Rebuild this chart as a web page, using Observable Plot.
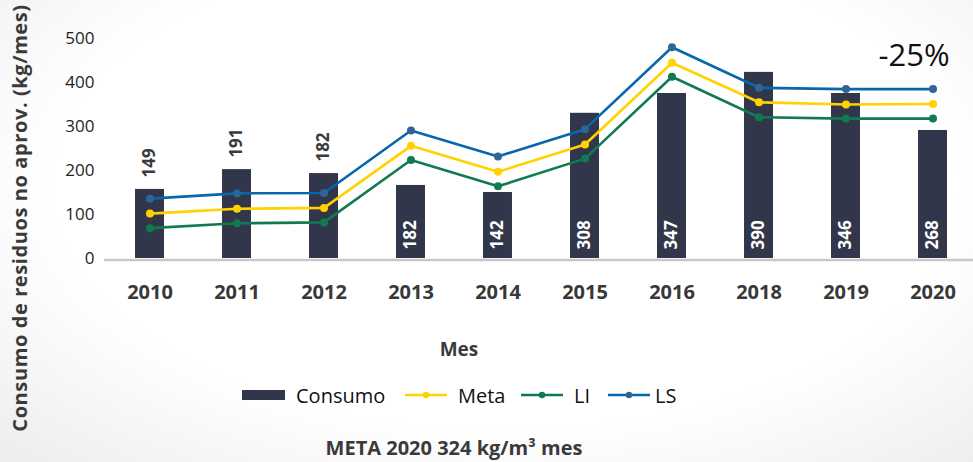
<!DOCTYPE html>
<html>
<head>
<meta charset="utf-8">
<script src="https://cdn.jsdelivr.net/npm/d3@7"></script>
<script src="https://cdn.jsdelivr.net/npm/@observablehq/plot@0.6"></script>
<style>
  html, body { margin: 0; padding: 0; }
  body { width: 973px; height: 462px; overflow: hidden;
    background: radial-gradient(ellipse 75% 85% at 52% 40%, #ffffff 62%, #ececec 100%);
    font-family: "Open Sans", sans-serif; }
  #wrap { position: relative; width: 973px; height: 462px; }
  #chart { position: absolute; left: 0; top: 0; }
  #ytitle { position: absolute; left: 19px; top: 218px; transform: translate(-50%, -50%) rotate(-90deg);
    white-space: nowrap; font-weight: 700; font-size: 20px; letter-spacing: 0.6px; color: #3a3a3a; }
  #xtitle { position: absolute; left: 459px; top: 336px; transform: translateX(-50%);
    font-weight: 700; font-size: 19px; color: #3a3a3a; }
  #legend { position: absolute; left: 0; top: 380px; width: 973px; height: 30px; font-size: 20px; color: #111; }
  #legend .item { position: absolute; top: 0; display: flex; align-items: center; height: 30px; }
  #legend svg { display: block; }
  #caption { position: absolute; left: 454px; top: 434px; transform: translateX(-50%);
    white-space: nowrap; font-weight: 700; font-size: 20px; color: #3a3a3a; }
</style>
</head>
<body>
<div id="wrap">
  <div id="chart"></div>
  <div id="ytitle"></div>
  <div id="xtitle"></div>
  <div id="legend"></div>
  <div id="caption"></div>
</div>
<script>
// ---- data ----
const years = ["2010", "2011", "2012", "2013", "2014", "2015", "2016", "2018", "2019", "2020"];
const consumo = [157, 202, 193, 166, 150, 330, 375, 423, 375, 291];      // bar heights as drawn
const consumoLabels = [149, 191, 182, 182, 142, 308, 347, 390, 346, 268]; // printed data labels
const meta = [102, 113, 115, 256, 197, 259, 445, 355, 350, 351];
const li = [69, 80, 82, 224, 164, 227, 413, 321, 318, 318];
const ls = [136, 148, 149, 291, 232, 294, 480, 388, 385, 385];
const yTicks = [0, 100, 200, 300, 400, 500];
const seriesNames = ["Consumo", "Meta", "LI", "LS"];
const yTitle = "Consumo de residuos no aprov. (kg/mes)";
const xTitle = "Mes";
const caption = "META 2020 324 kg/m³ mes";
const annotation = "-25%";

// ---- styles ----
const colors = { Consumo: "#32364a", Meta: "#ffd200", LI: "#127a4f", LS: "#0767ad" };
const dotColors = { Meta: "#ffd200", LI: "#127a4f", LS: "#2f6496" };

const bars = years.map((year, i) => ({ year, value: consumo[i], label: consumoLabels[i], i }));
const lineRows = [];
[["Meta", meta], ["LI", li], ["LS", ls]].forEach(([name, arr]) =>
  years.forEach((year, i) => lineRows.push({ series: name, year, value: arr[i] })));

const lineMarks = [];
for (const name of ["LI", "Meta", "LS"]) {
  const rows = lineRows.filter(d => d.series === name);
  lineMarks.push(Plot.lineY(rows, { x: "year", y: "value", stroke: colors[name], strokeWidth: 2.6, curve: "linear" }));
  lineMarks.push(Plot.dot(rows, { x: "year", y: "value", fill: dotColors[name], r: 4, stroke: "none" }));
}

const chart = Plot.plot({
  width: 973,
  height: 310,
  marginTop: 38,
  marginBottom: 52,
  marginLeft: 104,
  marginRight: 0,
  style: { background: "transparent", fontFamily: "Open Sans, sans-serif", overflow: "visible" },
  x: { domain: years, range: [106, 976], paddingInner: 0.667, paddingOuter: 0.3335, round: false, axis: null },
  y: { domain: [0, 500], ticks: yTicks, axis: null },
  marks: [
    Plot.barY(bars, { x: "year", y: "value", fill: colors.Consumo }),
    Plot.ruleY([0], { stroke: "#c8c8c8", strokeWidth: 2.5, dy: 1.5 }),
    Plot.axisY({ ticks: yTicks, tickSize: 0, tickPadding: 10, fontSize: 17, fill: "#1e1e1e", label: null }),
    Plot.axisX({ tickSize: 0, tickPadding: 26, fontSize: 20, fontWeight: 700, fill: "#383838", label: null }),
    ...lineMarks,
    Plot.text(bars.filter(d => d.i < 3), { x: "year", y: "value", text: "label", rotate: -90, textAnchor: "start",
      lineAnchor: "middle", dy: -12, fontSize: 17, fontWeight: 700, fill: "#3a3a3a" }),
    Plot.text(bars.filter(d => d.i >= 3), { x: "year", y: () => 0, text: "label", rotate: -90, textAnchor: "start",
      lineAnchor: "middle", dy: -9, fontSize: 17, fontWeight: 700, fill: "#ffffff" }),
    Plot.text([annotation], { x: () => "2020", y: () => 500, text: d => d, fontSize: 31, fill: "#111",
      textAnchor: "middle", lineAnchor: "bottom", dx: -19, dy: 27 })
  ]
});
document.getElementById("chart").appendChild(chart);

document.getElementById("ytitle").textContent = yTitle;
document.getElementById("xtitle").textContent = xTitle;
document.getElementById("caption").textContent = caption;

// legend
const legend = document.getElementById("legend");
const legendLefts = { Consumo: 242, Meta: 405, LI: 521, LS: 608 };
for (const name of seriesNames) {
  const item = document.createElement("div");
  item.className = "item";
  item.style.left = legendLefts[name] + "px";
  let sw;
  if (name === "Consumo") {
    sw = `<svg width="54" height="12"><rect x="0" y="1" width="43" height="10" fill="${colors[name]}"/></svg>`;
  } else {
    const gap = name === "LS" ? 5 : 11;
    sw = `<svg width="${42 + gap}" height="12"><line x1="0" x2="42" y1="6" y2="6" stroke="${colors[name]}" stroke-width="2.6"/><circle cx="21" cy="6" r="3.2" fill="${dotColors[name]}"/></svg>`;
  }
  item.innerHTML = sw + `<span>${name}</span>`;
  legend.appendChild(item);
}
</script>
</body>
</html>
